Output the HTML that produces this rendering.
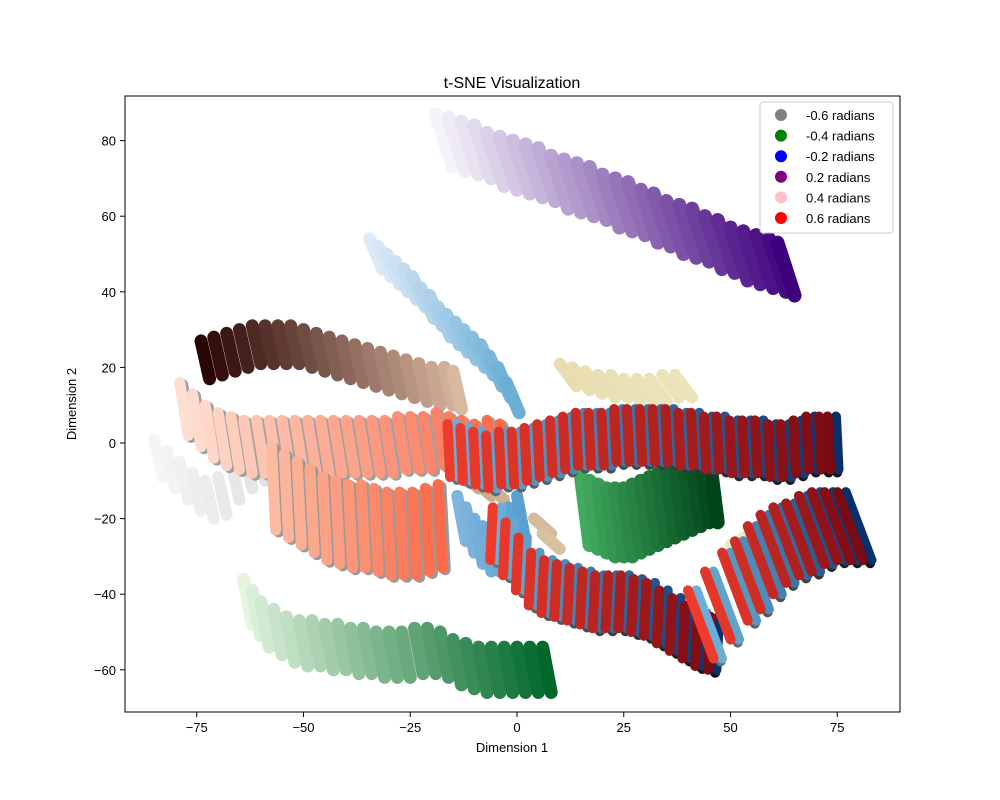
<!DOCTYPE html>
<html><head><meta charset="utf-8"><style>
body{margin:0;background:#fff}
svg{display:block;font-family:"Liberation Sans",sans-serif}
</style></head><body>
<svg id="chart" width="1000" height="800">
<rect width="1000" height="800" fill="#fff"/>
<text x="512" y="88" text-anchor="middle" font-size="16">t-SNE Visualization</text>
<g id="marks"></g>
<rect x="125" y="96" width="775" height="616" fill="none" stroke="#000" stroke-width="1"/>
<g id="axes"></g>
<text x="512" y="752" text-anchor="middle" font-size="13">Dimension 1</text>
<text x="76" y="404" text-anchor="middle" font-size="13" transform="rotate(-90 76 404)">Dimension 2</text>
<g id="legend"></g>
</svg>
<script>
const xTicks=[-75,-50,-25,0,25,50,75];
const yTicks=[-60,-40,-20,0,20,40,60,80];
const legendLabels=["-0.6 radians","-0.4 radians","-0.2 radians","0.2 radians","0.4 radians","0.6 radians"];
const legendColors=["#808080","#008000","#0000ff","#800080","#ffc0cb","#ff0000"];

const purpleX=[-17,-14,-11,-8,-5,-2,1,4,7,10,13,16,19,22,25,28,31,34,37,40,43,46,49,52,55,58,61,63];
const purpleY=[80,79,78,77,75,74,73,72,71,69,68,67,66,64,63,62,60,59,57,56,55,53,52,50,49,48,47,46];
const lightBlueX=[-33,-31,-29,-27,-25,-23,-21,-19,-17,-15,-13,-11,-9,-7,-5,-3,-1];
const lightBlueY=[50,48,46,44,42,40,37,35,32,30,28,26,24,22,19,16,12];
const brownX=[-73,-70,-67,-64,-61,-58,-55,-52,-49,-46,-43,-40,-37,-34,-31,-28,-25,-22,-19,-16,-14];
const brownY=[22,23,24,25,26,26,26,26,25,24,23,22,21,20,19,18,17,16,15,15,14];
const salmonUpX=[-78,-75,-72,-69,-66,-63,-60,-57,-54,-51,-48,-45,-42,-39,-36,-33,-30,-27,-24,-21,-18,-15,-12,-9,-6,-3];
const salmonUpY=[9,6,3,1,0,-1,-1,-1,-1,-1,-1,-1,-1,-1,-1,-1,-1,0,0,0,1,0,-1,-2,-1,-2];
const salmonLowX=[-57,-54,-51,-48,-45,-42,-39,-36,-33,-30,-27,-24,-21,-18];
const salmonLowY=[-12,-14,-16,-18,-20,-21,-22,-22,-23,-24,-24,-24,-23,-22];
const greyX=[-84,-81,-78,-75,-72,-69,-66,-63,-60,-57];
const greyY=[-4,-7,-10,-13,-15,-14,-10,-7,-5,-4];
const greenX=[-63,-61,-59,-56,-53,-50,-47,-44,-41,-38,-35,-32,-29,-26,-23,-20,-17,-14,-11,-8,-5,-2,1,4,7];
const greenY=[-42,-45,-48,-50,-52,-53,-53,-54,-54,-55,-55,-56,-56,-56,-55,-55,-56,-58,-59,-60,-60,-60,-60,-60,-60];
const darkGreenX=[16,18,20,22,24,26,28,30,32,34,36,38,40,42,44,46];
const darkGreenY=[-18,-19,-20,-21,-21,-21,-20,-19,-18,-17,-16,-15,-14,-13,-12,-12];
const ringUpX=[-15,-12,-9,-6,-3,0,3,6,9,12,15,18,21,24,27,30,33,36,39,42,45,48,51,54,57,60,63,66,69,72,74];
const ringUpY=[-2,-3,-4,-5,-4,-4,-3,-2,-1,0,1,1,1,2,2,2,2,2,1,1,0,0,-1,-1,-1,-2,-2,-1,0,0,0];
const ringLowX=[-5,-2,1,4,7,10,13,16,19,22,25,28,31,34,37,40,43,46];
const ringLowY=[-24,-28,-32,-36,-38,-39,-40,-41,-42,-42,-42,-43,-44,-46,-48,-50,-52,-53];
const rightX=[44,48,52,55,58,61,64,67,70,73,76,79];
const rightY=[-48,-43,-38,-35,-31,-28,-26,-25,-23,-22,-22,-22];
const midBlueX=[-13,-11,-9,-7,-5,-3,-1,1];
const midBlueY=[-20,-23,-26,-28,-28,-26,-23,-20];
const beigeX=[12,15,18,21,24,27,30,33,36,39,30,33,36,40,52,55,58,28,31,34];
const beigeY=[18,17,16,15,15,14,14,14,15,15,-2,-3,-3,-2,-30,-28,-26,-45,-44,-43];
const tanX=[-14,-11,-8,-5,3,6,8];
const tanY=[-8,-10,-12,-13,-5,-22,-26];

const X=v=>517+(v)*4.27, Y=v=>443-(v)*3.78;
const NS="http://www.w3.org/2000/svg";
const marks=document.getElementById('marks');
function lerp(a,b,t){const pa=[1,3,5].map(i=>parseInt(a.substr(i,2),16)),pb=[1,3,5].map(i=>parseInt(b.substr(i,2),16));return 'rgb('+pa.map((v,i)=>Math.round(v+(pb[i]-v)*t)).join(',')+')';}
function stroke(x,y,h,tilt,col,w,dx,dy){
  const l=document.createElementNS(NS,'line');
  l.setAttribute('x1',X(x-tilt)+dx);l.setAttribute('y1',Y(y+h)+dy);
  l.setAttribute('x2',X(x+tilt)+dx);l.setAttribute('y2',Y(y-h)+dy);
  l.setAttribute('stroke',col);l.setAttribute('stroke-width',w);l.setAttribute('stroke-linecap','round');
  
  
  marks.appendChild(l);
}
function band(xs,ys,h,tilt,c0,c1,w){
  xs.forEach((x,i)=>stroke(x,ys[i],h,tilt,lerp(c0,c1,xs.length>1?i/(xs.length-1):0),w,0,0));
}
band(greyX,greyY,5,1,'#f5f5f5','#e0e0e0',12);
band(greenX,greenY,6,1,'#e5f5e0','#00682a',13);
band(purpleX,purpleY,7,2,'#f5f4fa','#3f007d',14);
band(lightBlueX,lightBlueY,4,1.5,'#deebf7','#6baed6',13);
band(brownX,brownY,5,1,'#2a0505','#d9b8a0',13);
salmonUpX.forEach((x,i)=>{stroke(x,salmonUpY[i],7,1,'#a0a0a0',11,3,2);});
band(salmonUpX,salmonUpY,7,1,'#fee0d2','#fb6a4a',11);
salmonLowX.forEach((x,i)=>{stroke(x,salmonLowY[i],11,0.5,'#999',11,3,2);});
band(salmonLowX,salmonLowY,11,0.5,'#fcbba1','#fb6a4a',11);
band(tanX,tanY,2,2,'#c8a088','#d8c0a0',12);
band(midBlueX,midBlueY,6,1,'#7fb5dc','#5aa0d0',12);
band(beigeX,beigeY,3,2,'#e8ddb0','#eeecc8',12);
band(darkGreenX,darkGreenY,9,1,'#41ab5d','#00441b',14);
function ring(xs,ys,h,tilt){
  xs.forEach((x,i)=>{
    const t=i/(xs.length-1);
    stroke(x,ys[i],h,tilt,lerp('#707070','#111111',t),10,3,3);
    stroke(x+1,ys[i],h,tilt,lerp('#6baed6','#08306b',t),10,0,0);
    stroke(x-0.5,ys[i],h,tilt,lerp('#ef3b2c','#7a0a14',t),10,-2,0);
  });
}
ring(ringUpX,ringUpY,7,0.3);
ring(ringLowX,ringLowY,7,-0.3);
ring(rightX,rightY,9,3);

const axes=document.getElementById('axes');
xTicks.forEach(v=>{
  const l=document.createElementNS(NS,'line');l.setAttribute('x1',X(v));l.setAttribute('x2',X(v));l.setAttribute('y1',712);l.setAttribute('y2',717);l.setAttribute('stroke','#000');
  
  
  axes.appendChild(l);
  const t=document.createElementNS(NS,'text');t.setAttribute('x',X(v));t.setAttribute('y',732);t.setAttribute('text-anchor','middle');t.setAttribute('font-size','13');t.textContent=v<0?'\u2212'+(-v):v;
  
  
  axes.appendChild(t);
});
yTicks.forEach(v=>{
  const l=document.createElementNS(NS,'line');l.setAttribute('x1',120);l.setAttribute('x2',125);l.setAttribute('y1',Y(v));l.setAttribute('y2',Y(v));l.setAttribute('stroke','#000');
  
  
  axes.appendChild(l);
  const t=document.createElementNS(NS,'text');t.setAttribute('x',116);t.setAttribute('y',Y(v)+5);t.setAttribute('text-anchor','end');t.setAttribute('font-size','13');t.textContent=v<0?'\u2212'+(-v):v;
  
  
  axes.appendChild(t);
});
const lg=document.getElementById('legend');
const box=document.createElementNS(NS,'rect');box.setAttribute('x',760);box.setAttribute('y',102);box.setAttribute('width',133);box.setAttribute('height',131);box.setAttribute('rx',3);box.setAttribute('fill','#fff');box.setAttribute('fill-opacity','0.85');box.setAttribute('stroke','#ccc');


lg.appendChild(box);
legendLabels.forEach((s,i)=>{
  const y=115+i*20.6;
  const c=document.createElementNS(NS,'circle');c.setAttribute('cx',781);c.setAttribute('cy',y);c.setAttribute('r',6);c.setAttribute('fill',legendColors[i]);
  
  
  lg.appendChild(c);
  const t=document.createElementNS(NS,'text');t.setAttribute('x',806);t.setAttribute('y',y+5);t.setAttribute('font-size','13');t.textContent=s;
  
  
  lg.appendChild(t);
});
</script>
</body></html>
